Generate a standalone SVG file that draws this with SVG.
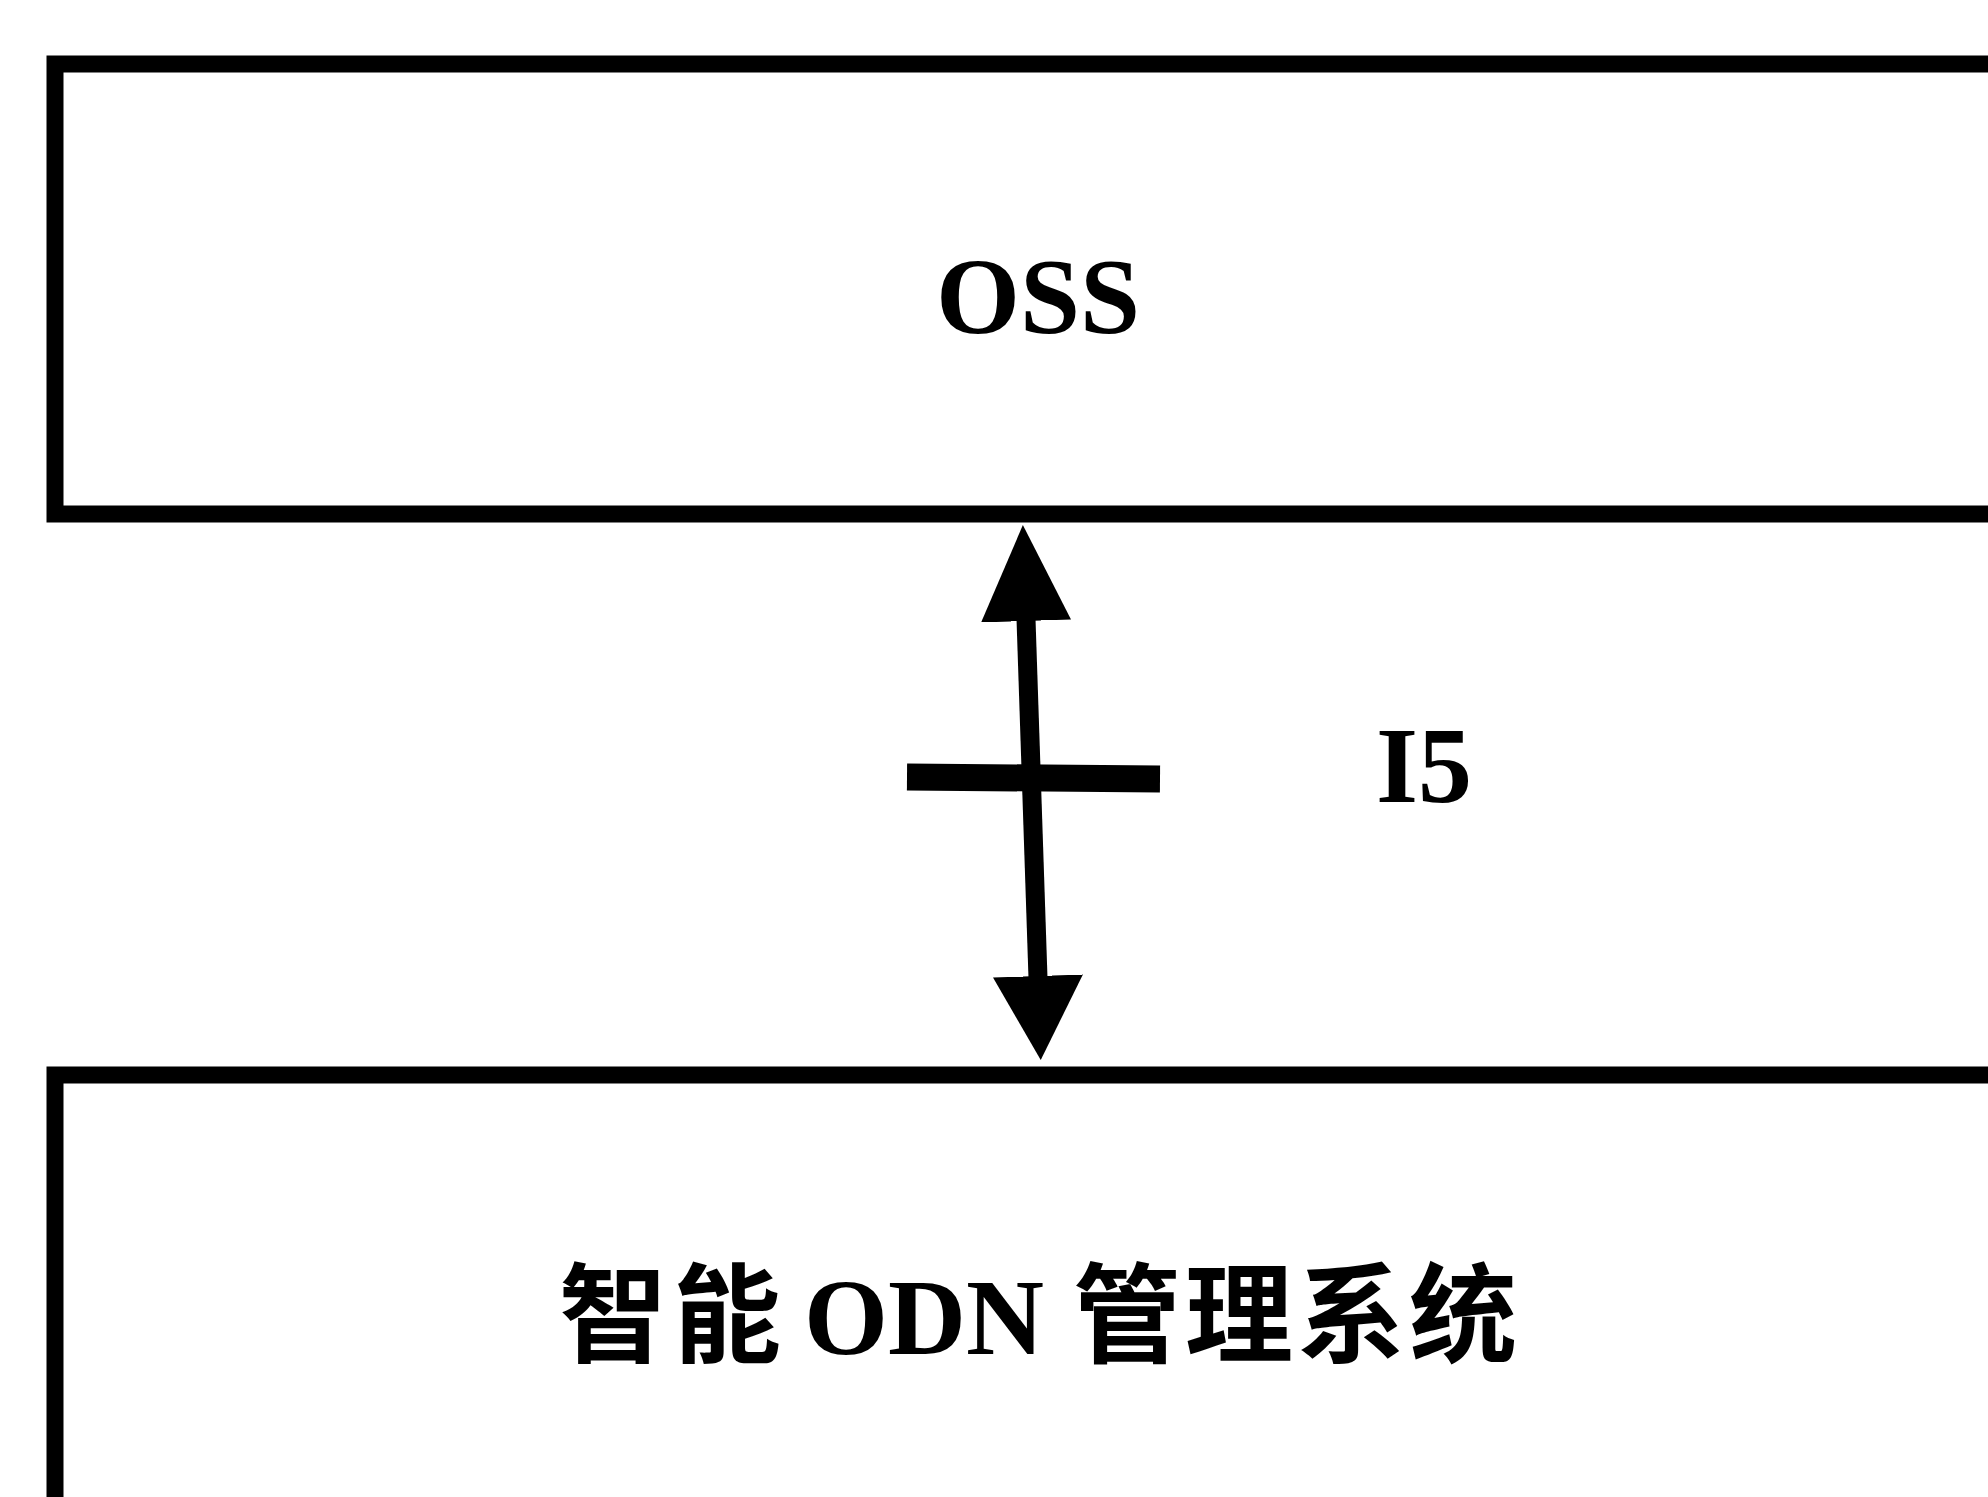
<svg xmlns="http://www.w3.org/2000/svg" width="1988" height="1497" viewBox="0 0 1988 1497">
  <style>
    .box { fill: #ffffff; stroke: #000000; stroke-width: 17; }
    .lbl { font-family: "Liberation Serif", "Noto Sans CJK SC", serif; font-weight: bold; font-size: 108px; fill: #000000; }
    .cjk { font-family: "Liberation Serif", "Noto Sans CJK SC", serif; font-weight: bold; font-size: 108px; fill: #000000; }
    .conn { stroke: #000000; stroke-width: 19; fill: none; }
    .tick { stroke: #000000; stroke-width: 27; fill: none; }
  </style>
  <defs>
    <marker id="head-start" viewBox="0 0 96 90" markerWidth="96" markerHeight="90" markerUnits="userSpaceOnUse" refX="2" refY="45" orient="auto-start-reverse">
      <path d="M0,0 L96,45 L0,90 Z" fill="#000000"/>
    </marker>
    <marker id="head-end" viewBox="0 0 84 90" markerWidth="84" markerHeight="90" markerUnits="userSpaceOnUse" refX="2" refY="45" orient="auto">
      <path d="M0,0 L84,45 L0,90 Z" fill="#000000"/>
    </marker>
  </defs>
  <rect width="1988" height="1497" fill="#ffffff"/>

  <g id="oss">
    <rect class="box" x="55" y="64" width="2000" height="450"/>
    <text class="lbl" x="1038" y="333" text-anchor="middle">OSS</text>
  </g>

  <g id="odn-management-system">
    <rect class="box" x="55" y="1075" width="2000" height="500"/>
    <text class="cjk" y="1354"><tspan x="559" letter-spacing="6">智能</tspan><tspan x="804">ODN</tspan><tspan x="1073" letter-spacing="4">管理系统</tspan></text>
  </g>

  <g id="connectors">
    <path class="conn" d="M1026,619 L1038,978" marker-start="url(#head-start)" marker-end="url(#head-end)"/>
    <path class="tick" d="M907,777 L1160,779"/>
    <text class="lbl" x="1376" y="802">I5</text>
  </g>
</svg>
